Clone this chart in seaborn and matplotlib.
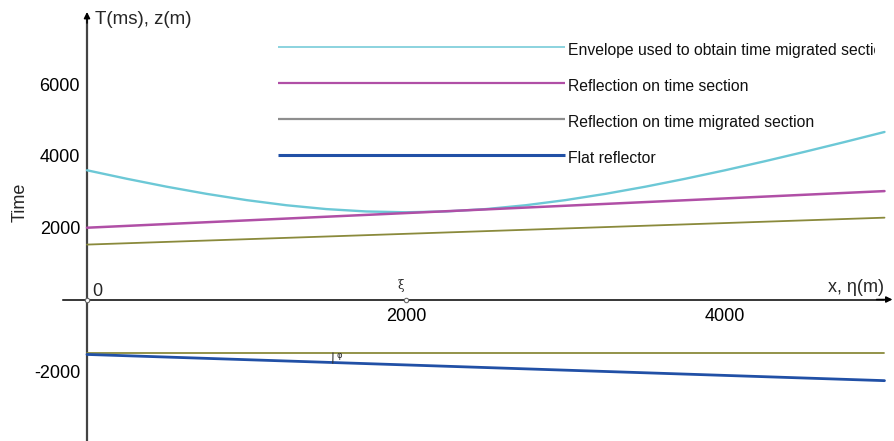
import numpy as np
import pandas as pd
import matplotlib
matplotlib.use("Agg")
import matplotlib.pyplot as plt
from matplotlib.patches import Arc, Rectangle
from matplotlib.transforms import IdentityTransform
import seaborn as sns

# ---- data -------------------------------------------------------------
# offset coordinate x, eta (m)
x_env = [0, 250, 500, 750, 1000, 1250, 1500, 1750, 2000, 2250, 2500,
         2750, 3000, 3250, 3500, 3750, 4000, 4250, 4500, 4750, 5000]
# envelope used to obtain the time migrated section (ms)
t_env = [3600, 3363, 3142, 2943, 2769, 2626, 2519, 2453, 2430, 2453, 2519,
         2626, 2769, 2943, 3142, 3363, 3600, 3852, 4115, 4387, 4667]

x_line = [0, 5000]
t_reflection = [2000, 3020]          # reflection on time section
t_migrated = [1530, 2280]            # reflection on time migrated section
z_horizontal = [-1500, -1500]        # horizontal reference at reflector top
z_flat = [-1530, -2260]              # flat (dipping) reflector, depth (m)

XI = 2000                             # position of xi on the x axis

x_ticks = [2000, 4000]
y_ticks = [-2000, 2000, 4000, 6000]

legend_labels = ["Envelope used to obtain time migrated section",
                 "Reflection on time section",
                 "Reflection on time migrated section",
                 "Flat reflector"]

C_ENV = "#6cc8d6"
C_REF = "#b04fa6"
C_MIG = "#8a8a3c"
C_GRAY = "#8e8e8e"
C_FLAT = "#2150a6"
C_YAX = "#444444"

# ---- figure -----------------------------------------------------------
sns.set_theme(style="white")
plt.rcParams["font.family"] = ["Liberation Sans", "DejaVu Sans"]
plt.rcParams["axes.unicode_minus"] = False

W, H = 894, 441
fig = plt.figure(figsize=(W / 100, H / 100), dpi=100)
ax = fig.add_axes([0, 0, 1, 1])
ax.set_facecolor("white")

XMIN, XMAX = -545.5, 5059.6
YMIN, YMAX = -3941, 8343
ax.set_xlim(XMIN, XMAX)
ax.set_ylim(YMIN, YMAX)

env_df = pd.DataFrame({"x": x_env, "t": t_env})
lines_df = pd.DataFrame({"x": x_line, "ref": t_reflection, "mig": t_migrated,
                         "hor": z_horizontal, "flat": z_flat})

sns.lineplot(data=env_df, x="x", y="t", ax=ax, color=C_ENV, lw=1.7, zorder=3)
sns.lineplot(data=lines_df, x="x", y="ref", ax=ax, color=C_REF, lw=1.8, zorder=3)
sns.lineplot(data=lines_df, x="x", y="mig", ax=ax, color=C_MIG, lw=1.3, zorder=3)
sns.lineplot(data=lines_df, x="x", y="hor", ax=ax, color=C_MIG, lw=1.3, zorder=3)
sns.lineplot(data=lines_df, x="x", y="flat", ax=ax, color=C_FLAT, lw=2.0, zorder=3)

# ---- axes through the origin -------------------------------------------
for s in ("top", "right"):
    ax.spines[s].set_visible(False)
ax.spines["left"].set_position(("data", 0))
ax.spines["bottom"].set_position(("data", 0))
ax.spines["left"].set_color(C_YAX)
ax.spines["left"].set_linewidth(1.6)
ax.spines["bottom"].set_color("black")
ax.spines["bottom"].set_linewidth(1.1)
ax.spines["bottom"].set_bounds(-150, 5000)
ax.spines["left"].set_bounds(YMIN, 7900)

ax.annotate("", xy=(5050, 0), xytext=(4950, 0),
            arrowprops=dict(arrowstyle="-|>", color="black", lw=1.1,
                            mutation_scale=9, shrinkA=0, shrinkB=0))
ax.annotate("", xy=(0, 8010), xytext=(0, 7700),
            arrowprops=dict(arrowstyle="-|>", color="black", lw=1.1,
                            mutation_scale=9, shrinkA=0, shrinkB=0))

ax.set_xticks(x_ticks)
ax.set_xticklabels([str(v) for v in x_ticks])
ax.set_yticks(y_ticks)
ax.set_yticklabels([str(v) for v in y_ticks])
ax.tick_params(axis="both", direction="inout", length=8, width=0.9,
               color="#555555", labelsize=13, labelcolor="black")
ax.tick_params(axis="x", pad=2)
ax.tick_params(axis="y", pad=1)
ax.set_xlabel("")
ax.set_ylabel("")
ax.grid(False)

# points at the origin and at xi
ax.scatter([0, XI], [0, 0], s=10, facecolor="white", edgecolor="#666666",
           linewidth=0.8, zorder=6)


def fx(px):
    return px / W


def fy(py):
    return 1 - py / H


# ---- axis texts --------------------------------------------------------
ax.text(fx(95), fy(20), "T(ms), z(m)", transform=ax.transAxes, fontsize=13.5,
        ha="left", va="center")
ax.text(fx(884), fy(288), "x, η(m)", transform=ax.transAxes, fontsize=13,
        ha="right", va="center")
ax.text(fx(92), fy(296.5), "0", transform=ax.transAxes, fontsize=13,
        ha="left", va="baseline")
ax.text(fx(20), fy(202), "Time", transform=ax.transAxes, fontsize=13,
        rotation=90, ha="center", va="center")
ax.text(fx(401), fy(285), "ξ", transform=ax.transAxes, fontsize=8.5,
        family="DejaVu Serif", ha="center", va="center")
ax.text(fx(339.5), fy(355), "φ", transform=ax.transAxes, fontsize=6,
        family="DejaVu Sans", ha="center", va="center")

# angle arc between the horizontal and the reflector
vx, vy = ax.transData.transform((0, z_horizontal[0]))
r = ax.transData.transform((1542, 0))[0] - vx
ax.add_patch(Arc((vx, vy), 2 * r, 2 * r, theta1=-2.4, theta2=0.2,
                 transform=IdentityTransform(), color="#333333", lw=0.8,
                 zorder=6))

# ---- key (text box cut off on the right) -------------------------------
key_clip = Rectangle((fx(270), fy(175)), fx(875) - fx(270), fy(30) - fy(175),
                     transform=ax.transAxes, facecolor="none",
                     edgecolor="none")
ax.add_patch(key_clip)

key_y = [47.3, 83.3, 119.3, 155.3]
key_colors = [C_ENV, C_REF, C_GRAY, C_FLAT]
key_widths = [1.1, 1.6, 1.6, 2.2]
for yy, col, lw, lab in zip(key_y, key_colors, key_widths, legend_labels):
    ax.plot([fx(278), fx(565)], [fy(yy), fy(yy)], transform=ax.transAxes,
            color=col, lw=lw, solid_capstyle="butt")
    t = ax.text(fx(567.5), fy(yy + 7.5), lab, transform=ax.transAxes,
                fontsize=11.3, ha="left", va="baseline", color="#111111")
    t.set_clip_path(key_clip)
    t.set_clip_on(True)

fig.savefig("out.png", dpi=100)
